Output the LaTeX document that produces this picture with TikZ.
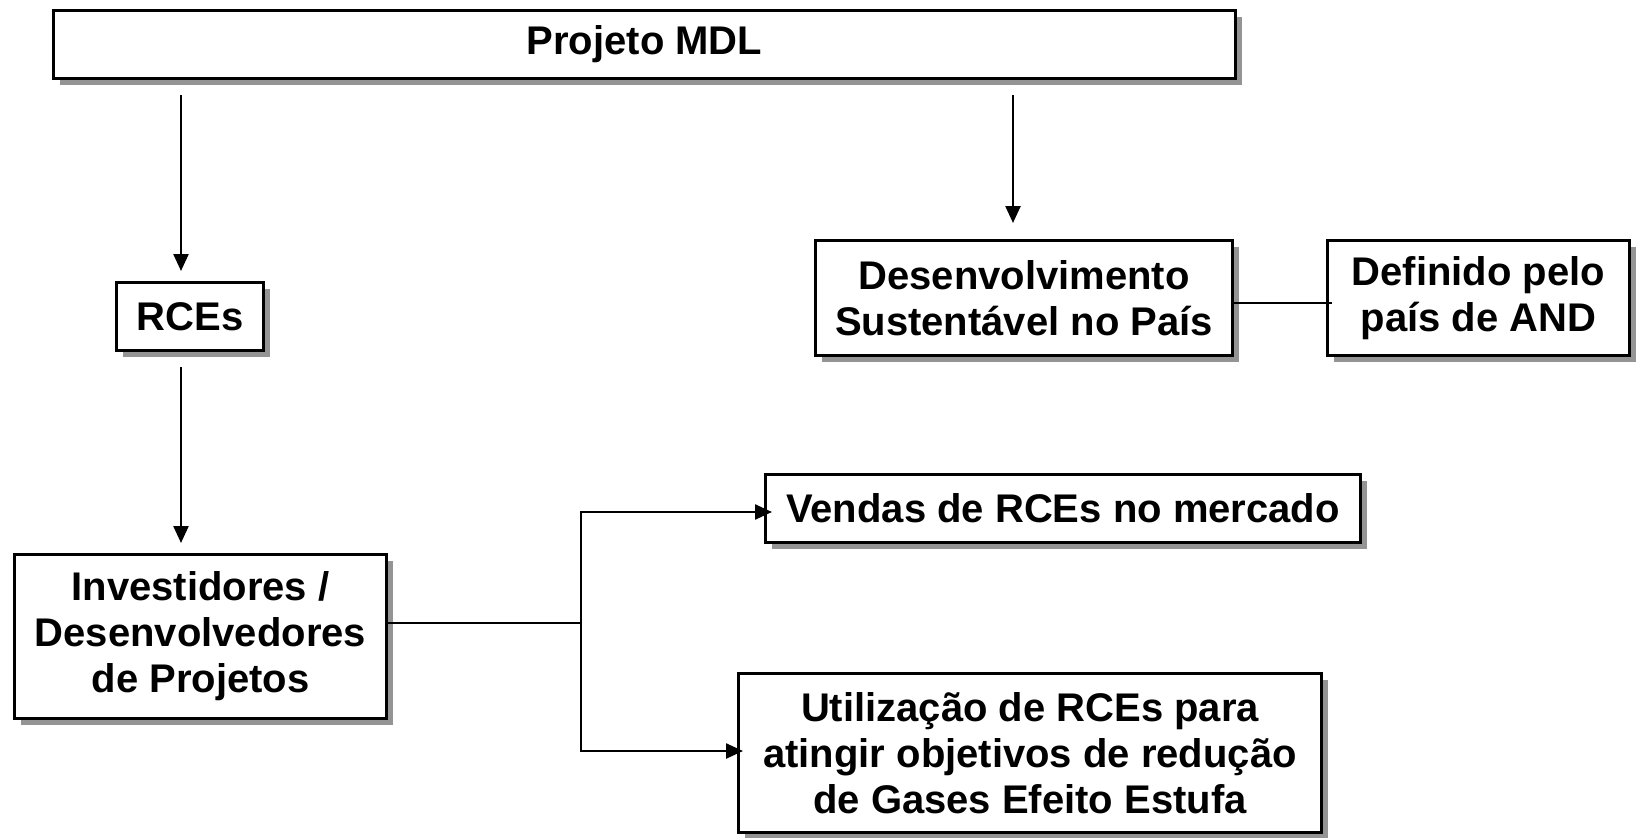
\documentclass[tikz,border=0pt]{standalone}
\usepackage{fontspec}
\setmainfont{Liberation Sans}
\usetikzlibrary{arrows.meta,shadows}
\begin{document}
\begin{tikzpicture}[x=1pt,y=-1pt,
  box/.style={draw=black, line width=3pt, fill=white, inner sep=0pt, align=center,
    font=\bfseries\fontsize{40}{46}\selectfont,
    drop shadow={shadow xshift=6.5pt, shadow yshift=-6.5pt, fill=black!42, opacity=1}},
  conn/.style={line width=2.4pt, draw=black},
  arr/.style={conn, -{Triangle[width=15pt,length=17pt]}}]
\useasboundingbox (0,0) rectangle (1642,838);
\node[box, minimum width=1182pt, minimum height=68pt] (top) at (644.5,44.5) {Projeto MDL};
\node[box, minimum width=147pt, minimum height=68pt] (rces) at (190,316.5) {RCEs};
\node[box, minimum width=372pt, minimum height=164pt] (inv) at (200.5,636.5) {Investidores /\\Desenvolvedores\\de Projetos};
\node[box, minimum width=417pt, minimum height=115pt] (des) at (1024,298) {Desenvolvimento\\Sustentável no País};
\node[box, minimum width=302pt, minimum height=115pt] (def) at (1478.5,298) {Definido pelo\\país de AND};
\node[box, minimum width=595pt, minimum height=68pt] (ven) at (1063,508.5) {Vendas de RCEs no mercado};
\node[box, minimum width=583pt, minimum height=159pt] (uti) at (1030,753) {Utilização de RCEs para\\atingir objetivos de redução\\de Gases Efeito Estufa};
\coordinate (xl) at (181,0);
\coordinate (xr) at (1013,0);
\coordinate (xb) at (581,0);
\coordinate (ly) at (0,303);
\coordinate (by) at (0,623);
\coordinate (vy) at (0,512);
\coordinate (uy) at (0,751);
\draw[arr, shorten <=15pt, shorten >=10pt] (top.south -| xl) -- (rces.north -| xl);
\draw[arr, shorten <=15pt, shorten >=10pt] (rces.south -| xl) -- (inv.north -| xl);
\draw[arr, shorten <=15pt, shorten >=16pt] (top.south -| xr) -- (des.north -| xr);
\draw[conn] (des.east |- ly) -- ([xshift=6pt]def.west |- ly);
\draw[conn] (inv.east |- by) -- (xb |- by);
\draw[arr] (xb |- by) |- ([xshift=8pt]ven.west |- vy);
\draw[arr] (xb |- by) |- ([xshift=6pt]uti.west |- uy);
\end{tikzpicture}
\end{document}
